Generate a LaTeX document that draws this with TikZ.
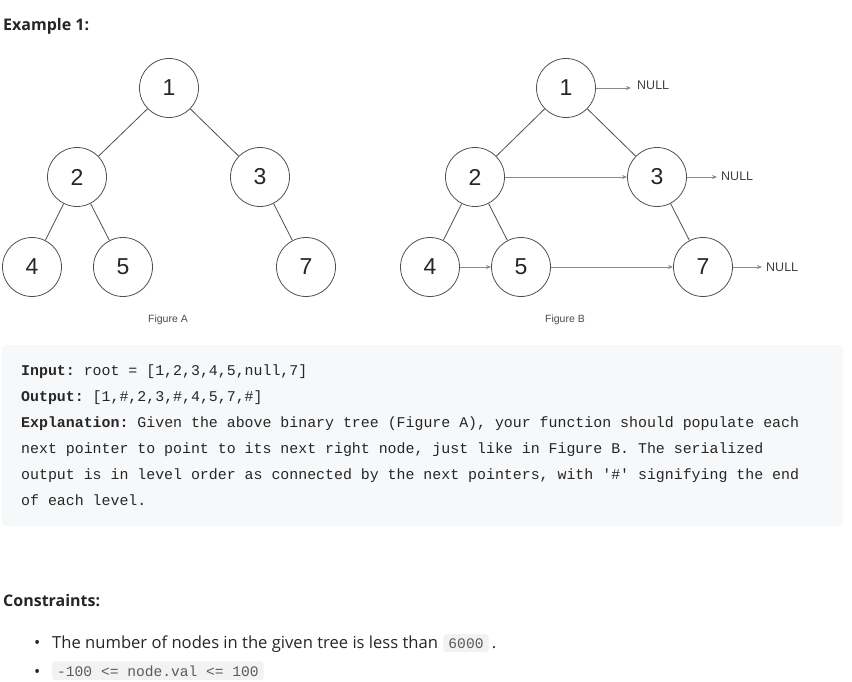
\documentclass[tikz,border=0pt]{standalone}
\usepackage{fontspec}
\setmainfont{Open Sans}
\setmonofont{Liberation Mono}
\newfontfamily\arial{Liberation Sans}
\usetikzlibrary{arrows.meta}
\definecolor{txt}{HTML}{262626}
\definecolor{edge}{HTML}{505050}
\definecolor{ptr}{HTML}{8A8A8A}
\definecolor{boxbg}{HTML}{F7F8FA}
\definecolor{codebg}{HTML}{F1F2F4}
\definecolor{codefg}{HTML}{5A5A5A}
\tikzset{
  tn/.style={circle, draw=edge, line width=0.8pt, minimum size=59pt, inner sep=0pt, font=\arial\fontsize{23}{23}\selectfont, text=black!85},
  tedge/.style={draw=edge, line width=0.8pt},
  nxt/.style={draw=ptr, line width=0.7pt, -{Stealth[length=5pt,width=4pt]}},
  nulltxt/.style={font=\arial\fontsize{12.5}{12.5}\selectfont, text=black!75, anchor=west, inner sep=0pt},
  figcap/.style={font=\arial\fontsize{10.5}{10.5}\selectfont, text=black!70},
  mono/.style={font=\ttfamily\fontsize{14.9}{15}\selectfont, text=txt, anchor=base west, inner sep=0pt},
  head/.style={font=\bfseries\fontsize{16}{16}\selectfont, text=txt, anchor=base west, inner sep=0pt},
  body/.style={font=\fontsize{16.6}{16.6}\selectfont, text=txt, anchor=base west, inner sep=0pt},
  code/.style={font=\ttfamily\fontsize{14.6}{14.6}\selectfont, text=codefg, fill=codebg, rounded corners=3pt, anchor=base west, inner xsep=5pt, inner ysep=4pt}
}
\begin{document}
\begin{tikzpicture}[x=1pt,y=-1pt]
\useasboundingbox (0,0) rectangle (852,682);
\fill[white] (0,0) rectangle (852,682);
\node[head] (ex) at (3,31) {Example 1:};
% Figure A
\node[tn] (a1) at (169,88) {1};
\node[tn] (a2) at (77,177) {2};
\node[tn] (a3) at (260,177) {3};
\node[tn] (a4) at (32,267) {4};
\node[tn] (a5) at (123,267) {5};
\node[tn] (a7) at (306,267) {7};
\draw[tedge] (a1) -- (a2);
\draw[tedge] (a1) -- (a3);
\draw[tedge] (a2) -- (a4);
\draw[tedge] (a2) -- (a5);
\draw[tedge] (a3) -- (a7);
\node[figcap] (capa) at (168,320) {Figure A};
% Figure B
\node[tn] (b1) at (566,88) {1};
\node[tn] (b2) at (475,177) {2};
\node[tn] (b3) at (657,177) {3};
\node[tn] (b4) at (430,267) {4};
\node[tn] (b5) at (521,267) {5};
\node[tn] (b7) at (703,267) {7};
\draw[tedge] (b1) -- (b2);
\draw[tedge] (b1) -- (b3);
\draw[tedge] (b2) -- (b4);
\draw[tedge] (b2) -- (b5);
\draw[tedge] (b3) -- (b7);
\node[nulltxt] (n1) at (637,85) {NULL};
\node[nulltxt] (n3) at (721,176) {NULL};
\node[nulltxt] (n7) at (766,267) {NULL};
\coordinate (e1) at (631,88);
\coordinate (e3) at (717,177);
\coordinate (e7) at (762,267);
\draw[nxt] (b1.east) -- (e1);
\draw[nxt] (b3.east) -- (e3);
\draw[nxt] (b7.east) -- (e7);
\draw[nxt] (b2.east) -- (b3.west);
\draw[nxt] (b4.east) -- (b5.west);
\draw[nxt] (b5.east) -- (b7.west);
\node[figcap] (capb) at (565,320) {Figure B};
% Example box
\fill[boxbg, rounded corners=4pt] (2,345) rectangle (843,526);
\node[mono] (l1) at (21,375) {\textbf{Input:} root = [1,2,3,4,5,null,7]};
\node[mono] (l2) at (21,401) {\textbf{Output:} [1,\#,2,3,\#,4,5,7,\#]};
\node[mono] (l3) at (21,427) {\textbf{Explanation:} Given the above binary tree (Figure A), your function should populate each};
\node[mono] (l4) at (21,453) {next pointer to point to its next right node, just like in Figure B. The serialized};
\node[mono] (l5) at (21,479) {output is in level order as connected by the next pointers, with '\#' signifying the end};
\node[mono] (l6) at (21,505) {of each level.};
% Constraints
\node[head] (cons) at (3,606) {Constraints:};
\node[body] (b1t) at (34,648) {\textbullet};
\node[body] (c1) at (52,648) {The number of nodes in the given tree is less than};
\node[code] (c1c) at (c1.base east) [xshift=5pt] {6000};
\node[body] (c1d) at (c1c.base east) [xshift=3pt] {.};
\node[body] (b2t) at (34,677) {\textbullet};
\node[code] (c2c) at (52,676) {-100 <= node.val <= 100};
\end{tikzpicture}
\end{document}
